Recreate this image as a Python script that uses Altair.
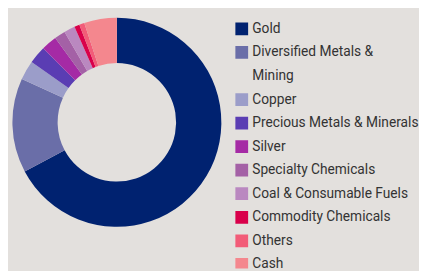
import altair as alt
import pandas as pd

categories = ["Gold", "Diversified Metals & Mining", "Copper", "Precious Metals & Minerals",
              "Silver", "Specialty Chemicals", "Coal & Consumable Fuels",
              "Commodity Chemicals", "Others", "Cash"]
values = [67.2, 14.6, 3.0, 2.75, 2.4, 1.7, 1.7, 0.8, 0.8, 5.05]
colors = ["#002270", "#6a6ea8", "#9b9dc9", "#5a3db3", "#a52aa5", "#a461a6",
          "#ba88c0", "#d9004a", "#f25c78", "#f4878e"]

# legend text lines (long label wrapped onto two lines)
legend_lines = ["Gold", "Diversified Metals &", "Mining", "Copper", "Precious Metals & Minerals",
                "Silver", "Specialty Chemicals", "Coal & Consumable Fuels",
                "Commodity Chemicals", "Others", "Cash"]
line_category = ["Gold", "Diversified Metals & Mining", None, "Copper", "Precious Metals & Minerals",
                 "Silver", "Specialty Chemicals", "Coal & Consumable Fuels",
                 "Commodity Chemicals", "Others", "Cash"]

BG = "#e3e0dd"
FONT = "Roboto"

df = pd.DataFrame({"category": categories, "value": values, "idx": list(range(len(categories)))})
leg = pd.DataFrame({"line": legend_lines, "category": line_category})

color_scale = alt.Scale(domain=categories, range=colors)

pie = alt.Chart(df).mark_arc(innerRadius=60.4, outerRadius=106.5).encode(
    x=alt.value(111),
    y=alt.value(114),
    theta=alt.Theta("value:Q", stack=True),
    color=alt.Color("category:N", scale=color_scale, legend=None),
    order=alt.Order("idx:Q"),
)

ybase = alt.Y("line:N", sort=legend_lines,
              scale=alt.Scale(domain=legend_lines, type="point", padding=0,
                              range=[18.8, 258.8]),
              axis=None)

symbols = alt.Chart(leg).transform_filter("datum.category != null").mark_square(
    size=169, opacity=1, filled=True, clip=True
).encode(
    x=alt.value(238.3),
    y=ybase,
    color=alt.Color("category:N", scale=color_scale, legend=None),
)

texts = alt.Chart(leg).mark_text(
    align="left", baseline="middle", font=FONT, fontSize=14, color="#333333", clip=True
).encode(
    x=alt.value(249),
    y=ybase,
    text="line:N",
)

chart = alt.layer(pie, symbols, texts).properties(
    width=419, height=263, background=BG, padding=0
).configure_view(stroke=None)

chart.save("out.html", embed_options={"renderer": "svg", "actions": False})
